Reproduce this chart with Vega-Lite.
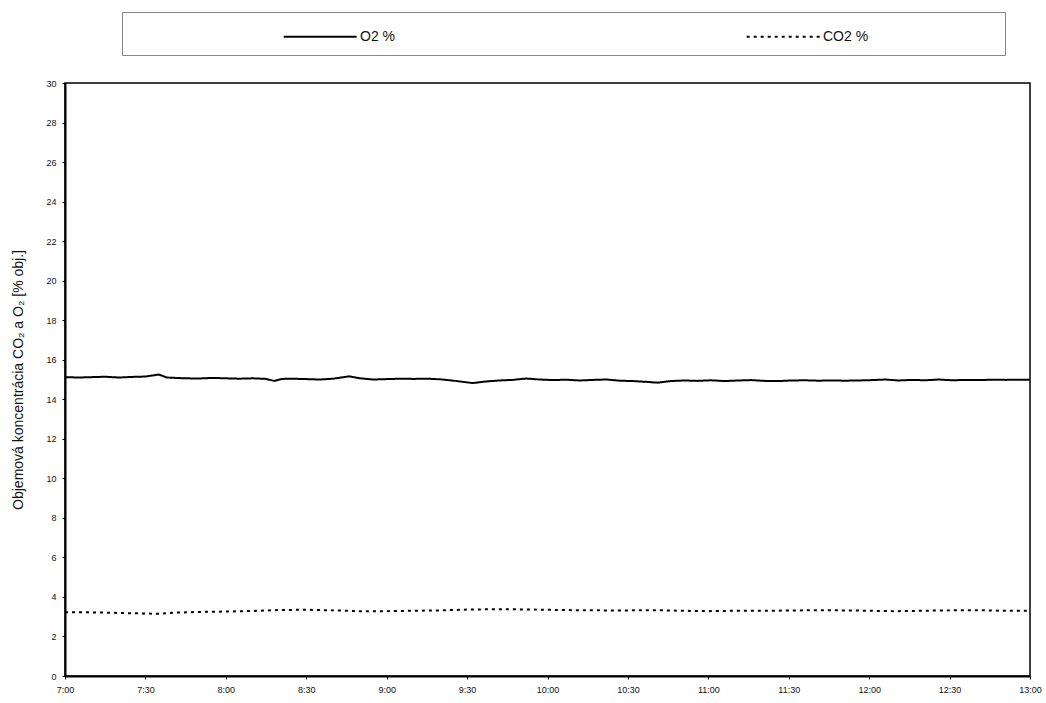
{
  "$schema": "https://vega.github.io/schema/vega-lite/v6.json",
  "width": 965,
  "height": 593,
  "autosize": {"type": "none"},
  "padding": {"left": 65, "top": 83, "right": 16, "bottom": 27},
  "background": "white",
  "config": {
    "view": {"stroke": "black", "strokeWidth": 1.5},
    "font": "Liberation Sans",
    "axis": {
      "domainColor": "black",
      "domainWidth": 2,
      "tickColor": "black",
      "tickSize": 3,
      "grid": false,
      "labelFont": "Liberation Sans",
      "labelFontSize": 9,
      "labelColor": "#111",
      "titleFont": "Liberation Sans",
      "titleFontWeight": "normal",
      "titleFontSize": 14,
      "titleColor": "#111"
    },
    "legend": {
      "labelFont": "Liberation Sans",
      "labelFontSize": 14,
      "labelColor": "#111"
    }
  },
  "data": {
    "values": [
      {"time": "2000-01-01T07:00:00", "series": "O2  %", "value": 15.12},
      {"time": "2000-01-01T07:05:00", "series": "O2  %", "value": 15.10},
      {"time": "2000-01-01T07:10:00", "series": "O2  %", "value": 15.12},
      {"time": "2000-01-01T07:15:00", "series": "O2  %", "value": 15.14},
      {"time": "2000-01-01T07:20:00", "series": "O2  %", "value": 15.10},
      {"time": "2000-01-01T07:25:00", "series": "O2  %", "value": 15.13},
      {"time": "2000-01-01T07:30:00", "series": "O2  %", "value": 15.15},
      {"time": "2000-01-01T07:35:00", "series": "O2  %", "value": 15.25},
      {"time": "2000-01-01T07:38:00", "series": "O2  %", "value": 15.10},
      {"time": "2000-01-01T07:45:00", "series": "O2  %", "value": 15.06},
      {"time": "2000-01-01T07:50:00", "series": "O2  %", "value": 15.05},
      {"time": "2000-01-01T07:55:00", "series": "O2  %", "value": 15.08},
      {"time": "2000-01-01T08:00:00", "series": "O2  %", "value": 15.06},
      {"time": "2000-01-01T08:05:00", "series": "O2  %", "value": 15.04},
      {"time": "2000-01-01T08:10:00", "series": "O2  %", "value": 15.06},
      {"time": "2000-01-01T08:15:00", "series": "O2  %", "value": 15.03},
      {"time": "2000-01-01T08:18:00", "series": "O2  %", "value": 14.93},
      {"time": "2000-01-01T08:21:00", "series": "O2  %", "value": 15.03},
      {"time": "2000-01-01T08:25:00", "series": "O2  %", "value": 15.04},
      {"time": "2000-01-01T08:30:00", "series": "O2  %", "value": 15.02},
      {"time": "2000-01-01T08:35:00", "series": "O2  %", "value": 15.00},
      {"time": "2000-01-01T08:40:00", "series": "O2  %", "value": 15.04},
      {"time": "2000-01-01T08:46:00", "series": "O2  %", "value": 15.16},
      {"time": "2000-01-01T08:50:00", "series": "O2  %", "value": 15.06},
      {"time": "2000-01-01T08:55:00", "series": "O2  %", "value": 15.00},
      {"time": "2000-01-01T09:00:00", "series": "O2  %", "value": 15.02},
      {"time": "2000-01-01T09:05:00", "series": "O2  %", "value": 15.04},
      {"time": "2000-01-01T09:10:00", "series": "O2  %", "value": 15.03},
      {"time": "2000-01-01T09:15:00", "series": "O2  %", "value": 15.04},
      {"time": "2000-01-01T09:20:00", "series": "O2  %", "value": 15.01},
      {"time": "2000-01-01T09:25:00", "series": "O2  %", "value": 14.94},
      {"time": "2000-01-01T09:32:00", "series": "O2  %", "value": 14.82},
      {"time": "2000-01-01T09:37:00", "series": "O2  %", "value": 14.90},
      {"time": "2000-01-01T09:42:00", "series": "O2  %", "value": 14.95},
      {"time": "2000-01-01T09:47:00", "series": "O2  %", "value": 14.98},
      {"time": "2000-01-01T09:52:00", "series": "O2  %", "value": 15.05},
      {"time": "2000-01-01T09:57:00", "series": "O2  %", "value": 15.00},
      {"time": "2000-01-01T10:02:00", "series": "O2  %", "value": 14.97},
      {"time": "2000-01-01T10:07:00", "series": "O2  %", "value": 14.99},
      {"time": "2000-01-01T10:12:00", "series": "O2  %", "value": 14.95},
      {"time": "2000-01-01T10:17:00", "series": "O2  %", "value": 14.98},
      {"time": "2000-01-01T10:22:00", "series": "O2  %", "value": 15.00},
      {"time": "2000-01-01T10:27:00", "series": "O2  %", "value": 14.94},
      {"time": "2000-01-01T10:32:00", "series": "O2  %", "value": 14.92},
      {"time": "2000-01-01T10:37:00", "series": "O2  %", "value": 14.88},
      {"time": "2000-01-01T10:41:00", "series": "O2  %", "value": 14.84},
      {"time": "2000-01-01T10:46:00", "series": "O2  %", "value": 14.92},
      {"time": "2000-01-01T10:51:00", "series": "O2  %", "value": 14.95},
      {"time": "2000-01-01T10:56:00", "series": "O2  %", "value": 14.93},
      {"time": "2000-01-01T11:01:00", "series": "O2  %", "value": 14.96},
      {"time": "2000-01-01T11:06:00", "series": "O2  %", "value": 14.92},
      {"time": "2000-01-01T11:11:00", "series": "O2  %", "value": 14.95},
      {"time": "2000-01-01T11:16:00", "series": "O2  %", "value": 14.97},
      {"time": "2000-01-01T11:21:00", "series": "O2  %", "value": 14.93},
      {"time": "2000-01-01T11:26:00", "series": "O2  %", "value": 14.92},
      {"time": "2000-01-01T11:31:00", "series": "O2  %", "value": 14.95},
      {"time": "2000-01-01T11:36:00", "series": "O2  %", "value": 14.96},
      {"time": "2000-01-01T11:41:00", "series": "O2  %", "value": 14.94},
      {"time": "2000-01-01T11:46:00", "series": "O2  %", "value": 14.95},
      {"time": "2000-01-01T11:51:00", "series": "O2  %", "value": 14.94},
      {"time": "2000-01-01T11:56:00", "series": "O2  %", "value": 14.95},
      {"time": "2000-01-01T12:01:00", "series": "O2  %", "value": 14.97},
      {"time": "2000-01-01T12:06:00", "series": "O2  %", "value": 15.00},
      {"time": "2000-01-01T12:11:00", "series": "O2  %", "value": 14.95},
      {"time": "2000-01-01T12:16:00", "series": "O2  %", "value": 14.98},
      {"time": "2000-01-01T12:21:00", "series": "O2  %", "value": 14.96},
      {"time": "2000-01-01T12:26:00", "series": "O2  %", "value": 15.00},
      {"time": "2000-01-01T12:31:00", "series": "O2  %", "value": 14.96},
      {"time": "2000-01-01T12:36:00", "series": "O2  %", "value": 14.98},
      {"time": "2000-01-01T12:41:00", "series": "O2  %", "value": 14.97},
      {"time": "2000-01-01T12:46:00", "series": "O2  %", "value": 14.99},
      {"time": "2000-01-01T12:51:00", "series": "O2  %", "value": 14.98},
      {"time": "2000-01-01T12:56:00", "series": "O2  %", "value": 14.99},
      {"time": "2000-01-01T13:00:00", "series": "O2  %", "value": 14.99},
      {"time": "2000-01-01T07:00:00", "series": "CO2 %", "value": 3.22},
      {"time": "2000-01-01T07:10:00", "series": "CO2 %", "value": 3.22},
      {"time": "2000-01-01T07:20:00", "series": "CO2 %", "value": 3.19},
      {"time": "2000-01-01T07:30:00", "series": "CO2 %", "value": 3.16},
      {"time": "2000-01-01T07:35:00", "series": "CO2 %", "value": 3.15},
      {"time": "2000-01-01T07:40:00", "series": "CO2 %", "value": 3.20},
      {"time": "2000-01-01T07:50:00", "series": "CO2 %", "value": 3.24},
      {"time": "2000-01-01T08:00:00", "series": "CO2 %", "value": 3.26},
      {"time": "2000-01-01T08:10:00", "series": "CO2 %", "value": 3.29},
      {"time": "2000-01-01T08:20:00", "series": "CO2 %", "value": 3.34},
      {"time": "2000-01-01T08:30:00", "series": "CO2 %", "value": 3.35},
      {"time": "2000-01-01T08:40:00", "series": "CO2 %", "value": 3.32},
      {"time": "2000-01-01T08:50:00", "series": "CO2 %", "value": 3.28},
      {"time": "2000-01-01T09:00:00", "series": "CO2 %", "value": 3.28},
      {"time": "2000-01-01T09:10:00", "series": "CO2 %", "value": 3.30},
      {"time": "2000-01-01T09:20:00", "series": "CO2 %", "value": 3.32},
      {"time": "2000-01-01T09:30:00", "series": "CO2 %", "value": 3.36},
      {"time": "2000-01-01T09:40:00", "series": "CO2 %", "value": 3.38},
      {"time": "2000-01-01T09:50:00", "series": "CO2 %", "value": 3.37},
      {"time": "2000-01-01T10:00:00", "series": "CO2 %", "value": 3.35},
      {"time": "2000-01-01T10:10:00", "series": "CO2 %", "value": 3.33},
      {"time": "2000-01-01T10:20:00", "series": "CO2 %", "value": 3.32},
      {"time": "2000-01-01T10:30:00", "series": "CO2 %", "value": 3.32},
      {"time": "2000-01-01T10:40:00", "series": "CO2 %", "value": 3.33},
      {"time": "2000-01-01T10:50:00", "series": "CO2 %", "value": 3.30},
      {"time": "2000-01-01T11:00:00", "series": "CO2 %", "value": 3.28},
      {"time": "2000-01-01T11:10:00", "series": "CO2 %", "value": 3.30},
      {"time": "2000-01-01T11:20:00", "series": "CO2 %", "value": 3.30},
      {"time": "2000-01-01T11:30:00", "series": "CO2 %", "value": 3.31},
      {"time": "2000-01-01T11:40:00", "series": "CO2 %", "value": 3.33},
      {"time": "2000-01-01T11:50:00", "series": "CO2 %", "value": 3.32},
      {"time": "2000-01-01T12:00:00", "series": "CO2 %", "value": 3.30},
      {"time": "2000-01-01T12:10:00", "series": "CO2 %", "value": 3.28},
      {"time": "2000-01-01T12:20:00", "series": "CO2 %", "value": 3.30},
      {"time": "2000-01-01T12:30:00", "series": "CO2 %", "value": 3.32},
      {"time": "2000-01-01T12:40:00", "series": "CO2 %", "value": 3.33},
      {"time": "2000-01-01T12:50:00", "series": "CO2 %", "value": 3.30},
      {"time": "2000-01-01T13:00:00", "series": "CO2 %", "value": 3.30}
    ]
  },
  "mark": {"type": "line", "color": "black", "strokeWidth": 2, "interpolate": "linear"},
  "encoding": {
    "x": {
      "field": "time",
      "type": "temporal",
      "scale": {
        "domain": [
          {"year": 2000, "month": 1, "date": 1, "hours": 7},
          {"year": 2000, "month": 1, "date": 1, "hours": 13}
        ],
        "nice": false
      },
      "axis": {
        "title": null,
        "format": "%-H:%M",
        "values": [
          {"year": 2000, "month": 1, "date": 1, "hours": 7, "minutes": 0},
          {"year": 2000, "month": 1, "date": 1, "hours": 7, "minutes": 30},
          {"year": 2000, "month": 1, "date": 1, "hours": 8, "minutes": 0},
          {"year": 2000, "month": 1, "date": 1, "hours": 8, "minutes": 30},
          {"year": 2000, "month": 1, "date": 1, "hours": 9, "minutes": 0},
          {"year": 2000, "month": 1, "date": 1, "hours": 9, "minutes": 30},
          {"year": 2000, "month": 1, "date": 1, "hours": 10, "minutes": 0},
          {"year": 2000, "month": 1, "date": 1, "hours": 10, "minutes": 30},
          {"year": 2000, "month": 1, "date": 1, "hours": 11, "minutes": 0},
          {"year": 2000, "month": 1, "date": 1, "hours": 11, "minutes": 30},
          {"year": 2000, "month": 1, "date": 1, "hours": 12, "minutes": 0},
          {"year": 2000, "month": 1, "date": 1, "hours": 12, "minutes": 30},
          {"year": 2000, "month": 1, "date": 1, "hours": 13, "minutes": 0}
        ],
        "labelPadding": 6,
        "labelFlush": false,
        "labelOverlap": false
      }
    },
    "y": {
      "field": "value",
      "type": "quantitative",
      "scale": {"domain": [0, 30], "nice": false},
      "axis": {
        "title": "Objemová koncentrácia CO₂ a O₂  [% obj.]",
        "values": [0, 2, 4, 6, 8, 10, 12, 14, 16, 18, 20, 22, 24, 26, 28, 30],
        "labelPadding": 6,
        "titlePadding": 20
      }
    },
    "strokeDash": {
      "field": "series",
      "type": "nominal",
      "scale": {"domain": ["O2  %", "CO2 %"], "range": [[1, 0], [3, 4]]},
      "legend": {
        "title": "\u00a0",
        "titleOrient": "right",
        "titlePadding": 126,
        "orient": "none",
        "legendX": 57,
        "legendY": -71,
        "direction": "horizontal",
        "padding": 11,
        "strokeColor": "#888",
        "symbolType": "M-5,0H1",
        "symbolSize": 592,
        "symbolStrokeWidth": 2,
        "symbolStrokeColor": "black",
        "symbolFillColor": "transparent",
        "symbolOffset": 198,
        "labelOffset": 2,
        "columnPadding": 197
      }
    }
  }
}
